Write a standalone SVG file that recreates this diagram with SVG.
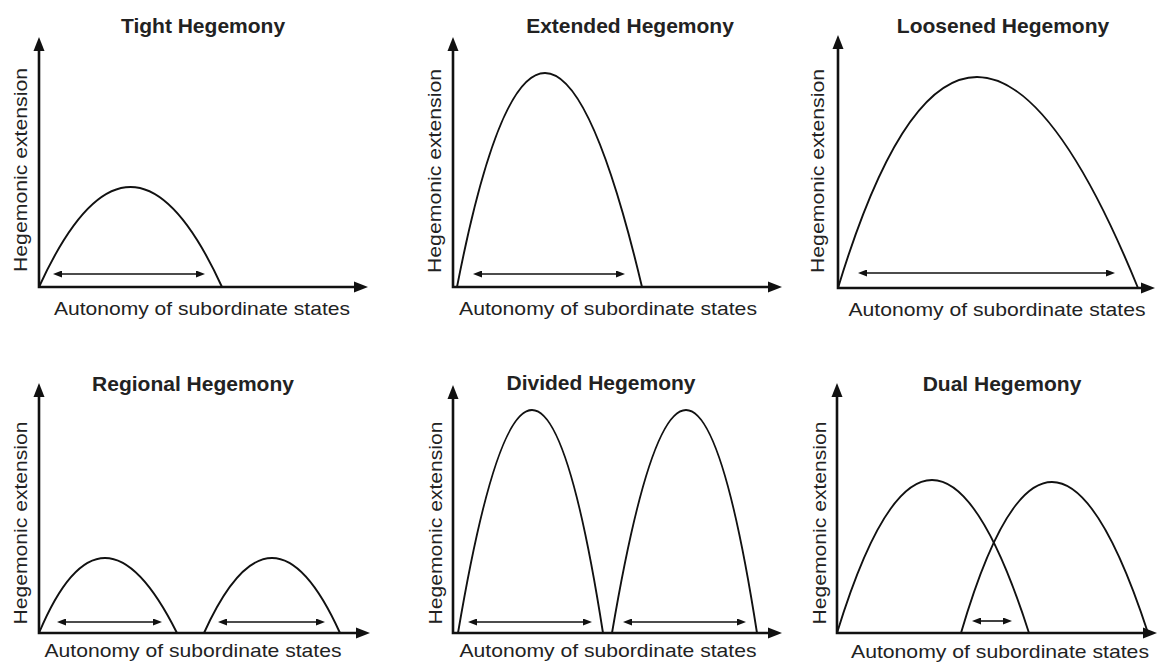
<svg xmlns="http://www.w3.org/2000/svg" width="1160" height="662" viewBox="0 0 1160 662">
<style>
.title{font-family:"Liberation Sans",Arial,sans-serif;font-weight:bold;font-size:21px;fill:#222;text-anchor:middle}
.lab{font-family:"Liberation Sans",Arial,sans-serif;font-size:19px;fill:#222;text-anchor:middle}
.axis{fill:none;stroke:#111;stroke-width:2.6;marker-start:url(#ah);marker-end:url(#ah)}
.curve{fill:none;stroke:#111;stroke-width:1.9}
.dbl{fill:none;stroke:#111;stroke-width:1.6;marker-start:url(#sh);marker-end:url(#sh)}
</style>
<defs>
<marker id="ah" markerUnits="userSpaceOnUse" markerWidth="14" markerHeight="12" refX="4" refY="6" orient="auto-start-reverse"><path d="M0,0.5 L14,6 L0,11.5 z" fill="#111"/></marker>
<marker id="sh" markerUnits="userSpaceOnUse" markerWidth="9" markerHeight="7" refX="3" refY="3.5" orient="auto-start-reverse"><path d="M0,0 L9,3.5 L0,7 z" fill="#111"/></marker>
</defs>
<rect width="1160" height="662" fill="#fff"/>

<g id="tight">
<text class="title" x="203" y="33">Tight Hegemony</text>
<path class="axis" d="M39,47 L39,287 L358,287"/>
<path class="curve" d="M39,287 Q130.5,87 222,287"/>
<line class="dbl" x1="59" y1="274" x2="199" y2="274"/>
<text class="lab" x="202" y="315" textLength="296" lengthAdjust="spacingAndGlyphs">Autonomy of subordinate states</text>
<text class="lab" x="27" y="170" transform="rotate(-90 27 170)" textLength="204" lengthAdjust="spacingAndGlyphs">Hegemonic extension</text>
</g>

<g id="extended">
<text class="title" x="630" y="33">Extended Hegemony</text>
<path class="axis" d="M453,47 L453,287 L772,287"/>
<path class="curve" d="M457,287 Q540.5,-141 642,287"/>
<line class="dbl" x1="479" y1="274" x2="619" y2="274"/>
<text class="lab" x="608" y="315" textLength="298" lengthAdjust="spacingAndGlyphs">Autonomy of subordinate states</text>
<text class="lab" x="441" y="171" transform="rotate(-90 441 171)" textLength="204" lengthAdjust="spacingAndGlyphs">Hegemonic extension</text>
</g>

<g id="loosened">
<text class="title" x="1003" y="33">Loosened Hegemony</text>
<path class="axis" d="M838,45 L838,288 L1145,288"/>
<path class="curve" d="M838,288 Q966,-134 1138,288"/>
<line class="dbl" x1="864" y1="273" x2="1109" y2="273"/>
<text class="lab" x="997" y="316" textLength="297" lengthAdjust="spacingAndGlyphs">Autonomy of subordinate states</text>
<text class="lab" x="824" y="171" transform="rotate(-90 824 171)" textLength="204" lengthAdjust="spacingAndGlyphs">Hegemonic extension</text>
</g>

<g id="regional">
<text class="title" x="193" y="391">Regional Hegemony</text>
<path class="axis" d="M39,393 L39,633 L360,633"/>
<path class="curve" d="M39,633 Q102,483 177,633"/>
<path class="curve" d="M204,633 Q272,483 340,633"/>
<line class="dbl" x1="63" y1="622" x2="156" y2="622"/>
<line class="dbl" x1="224" y1="622" x2="319" y2="622"/>
<text class="lab" x="193" y="657" textLength="297" lengthAdjust="spacingAndGlyphs">Autonomy of subordinate states</text>
<text class="lab" x="27" y="523" transform="rotate(-90 27 523)" textLength="203" lengthAdjust="spacingAndGlyphs">Hegemonic extension</text>
</g>

<g id="divided">
<text class="title" x="601" y="390">Divided Hegemony</text>
<path class="axis" d="M453,395 L453,633 L772,633"/>
<path class="curve" d="M458,633 Q533.5,187 603,633"/>
<path class="curve" d="M612,633 Q687.5,187 757,633"/>
<line class="dbl" x1="474" y1="622" x2="586" y2="622"/>
<line class="dbl" x1="629" y1="622" x2="740" y2="622"/>
<text class="lab" x="608" y="657" textLength="297" lengthAdjust="spacingAndGlyphs">Autonomy of subordinate states</text>
<text class="lab" x="442" y="523" transform="rotate(-90 442 523)" textLength="203" lengthAdjust="spacingAndGlyphs">Hegemonic extension</text>
</g>

<g id="dual">
<text class="title" x="1002" y="391">Dual Hegemony</text>
<path class="axis" d="M837,393 L837,633 L1147,633"/>
<path class="curve" d="M837,633 Q931,327 1029,633"/>
<path class="curve" d="M961,633 Q1049.5,331 1148,633"/>
<line class="dbl" x1="978" y1="621" x2="1006" y2="621"/>
<text class="lab" x="1000" y="658" textLength="298" lengthAdjust="spacingAndGlyphs">Autonomy of subordinate states</text>
<text class="lab" x="826" y="523" transform="rotate(-90 826 523)" textLength="203" lengthAdjust="spacingAndGlyphs">Hegemonic extension</text>
</g>
</svg>
